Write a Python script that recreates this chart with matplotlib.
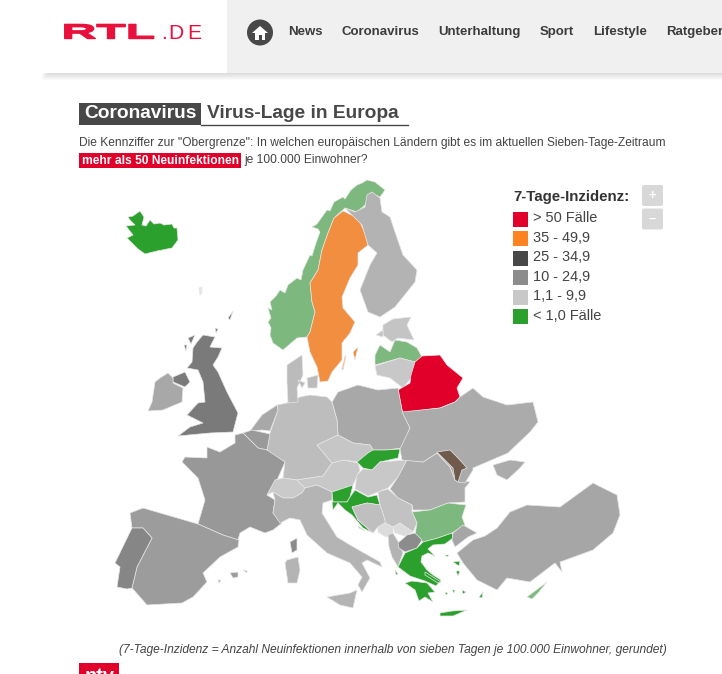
import matplotlib
matplotlib.use('Agg')
import matplotlib.pyplot as plt
from matplotlib.patches import Polygon, Rectangle, FancyBboxPatch, Circle
from matplotlib.transforms import Affine2D
from matplotlib import patheffects

plt.rcParams['font.family'] = ['Liberation Sans', 'DejaVu Sans']

# legend
legend_title = '7-Tage-Inzidenz:'
legend_labels = ['> 50 Fälle', '35 - 49,9', '25 - 34,9', '10 - 24,9', '1,1 - 9,9', '< 1,0 Fälle']
legend_colors = ['#e0002a', '#fd8320', '#484848', '#8c8c8c', '#c8c8c8', '#2ca02c']

nav_items = ['News', 'Coronavirus', 'Unterhaltung', 'Sport', 'Lifestyle', 'Ratgeber']
nav_x = [288, 342, 438, 540, 593, 666]

# map outlines (pixel positions of the screenshot)
iceland = [(128,217),(133,216),(140,211),(144,217),(142,225),(146,226),(150,220),(154,224),(160,223),(164,225),(172,224),(174,228),(177,228),(178,240),(172,248),(157,251),(145,254),(138,249),(127,238),(133,235),(126,226),(135,225),(130,220)]
faroe = [(199,288),(202,287),(202,293),(200,295)]
norway = [(367,180),(375,182),(385,190),(380,197),(370,193),(365,205),(357,212),(345,208),(334,218),(328,233),(322,250),(318,270),(310,283),(312,302),(315,312),(310,332),(307,337),(297,338),(283,350),(273,343),(270,335),(271,328),(268,322),(271,318),(268,308),(272,310),(270,302),(276,296),(280,290),(285,293),(288,285),(297,278),(301,280),(303,270),(310,255),(312,256),(316,243),(320,232),(318,229),(312,227),(317,224),(322,217),(327,210),(330,211),(334,202),(343,197),(345,199),(351,190),(357,185),(362,183)]
sweden = [(343,211),(358,218),(365,233),(368,245),(358,253),(358,265),(350,278),(342,297),(343,308),(355,322),(350,333),(342,343),(342,360),(332,372),(328,381),(320,382),(317,367),(310,352),(307,337),(310,332),(315,312),(312,302),(310,283),(318,270),(322,250),(328,233),(334,218)]
gotland = [(358,347),(355,360),(353,352)]
oland = [(346,356),(343,370),(342,369),(345,356)]
finland = [(372,192),(380,198),(382,212),(390,217),(395,232),(403,255),(417,270),(415,282),(395,307),(380,317),(368,312),(360,290),(370,265),(377,253),(368,245),(362,225),(345,208),(355,212),(365,207),(367,195)]
estonia = [(383,325),(393,319),(411,317),(407,325),(414,340),(398,338),(392,342),(383,335)]
estonia_isl = [(376,335),(383,330),(383,337)]
latvia = [(375,355),(380,345),(390,352),(395,340),(407,342),(417,348),(422,357),(415,362),(400,358),(375,365)]
lithuania = [(375,366),(400,358),(415,362),(411,378),(403,388),(390,378),(377,375)]
belarus = [(415,362),(422,356),(440,355),(447,365),(463,378),(457,388),(460,397),(455,402),(440,408),(408,412),(403,415),(398,390),(410,383),(411,375)]
poland = [(332,402),(338,392),(358,385),(378,390),(398,388),(402,410),(410,428),(402,448),(385,450),(373,450),(370,445),(353,443),(338,435),(337,420)]
germany = [(277,405),(287,403),(300,397),(310,395),(327,397),(332,402),(337,420),(338,435),(317,445),(332,463),(323,476),(297,480),(283,478),(285,462),(273,455),(267,450),(270,433),(278,410)]
denmark = [(287,365),(302,355),(303,375),(297,388),(298,402),(288,403),(287,382)]
zealand = [(307,378),(318,375),(317,388),(308,388)]
funen = [(298,380),(305,383),(302,388)]
netherlands = [(250,431),(262,415),(277,405),(278,410),(270,431),(262,430)]
belgium = [(243,433),(252,430),(270,434),(267,450),(258,448)]
luxembourg = [(267,450),(273,455),(267,456)]
uk = [(203,335),(215,337),(210,347),(222,348),(218,357),(213,365),(218,372),(227,392),(238,413),(233,432),(210,433),(178,436),(190,427),(203,423),(187,415),(198,403),(205,402),(203,382),(198,370),(187,368),(192,362),(193,348),(197,342)]
n_ireland = [(173,377),(185,372),(190,382),(185,387),(173,382)]
hebrides = [(188,338),(195,335),(191,344)]
skye = [(184,345),(187,345),(186,351)]
orkney = [(215,328),(218,329),(216,333)]
shetland = [(228,318),(233,311),(230,320)]
ireland = [(168,373),(173,378),(173,383),(183,388),(182,402),(163,410),(148,411),(152,402),(155,382),(160,378)]
france = [(235,435),(243,433),(258,448),(267,450),(285,462),(278,478),(267,495),(275,500),(273,513),(282,523),(273,530),(265,533),(250,527),(240,533),(238,540),(223,535),(198,524),(205,500),(198,478),(182,462),(185,457),(207,458),(207,447),(220,452),(235,443)]
spain = [(130,513),(143,508),(198,524),(223,535),(239,540),(238,547),(220,557),(203,573),(207,582),(193,597),(182,603),(147,605),(140,597),(132,588),(137,567),(152,538),(143,528),(132,528)]
portugal = [(132,528),(143,528),(152,538),(137,567),(132,588),(127,589),(117,587),(120,567),(115,563)]
mallorca = [(230,573),(238,572),(238,577),(233,578)]
menorca = [(243,570),(247,571),(247,573)]
ibiza = [(218,580),(221,580),(219,583)]
switzerland = [(267,495),(275,480),(283,478),(297,480),(305,488),(302,493),(293,498),(283,498),(273,492)]
austria = [(297,480),(323,476),(332,463),(343,460),(358,463),(360,470),(353,485),(332,492),(317,485),(305,488)]
czechia = [(317,445),(338,435),(353,443),(370,445),(375,452),(358,462),(343,460),(332,463)]
italy = [(273,492),(283,498),(293,498),(302,493),(305,488),(317,485),(332,492),(332,500),(323,503),(322,513),(337,537),(350,545),(380,562),(382,567),(367,560),(362,563),(370,578),(362,592),(358,585),(362,577),(350,563),(327,553),(307,535),(300,520),(290,518),(280,523),(273,513),(275,500)]
sardinia = [(287,560),(298,557),(300,570),(297,583),(288,583),(285,563)]
corsica = [(290,542),(297,538),(297,550),(292,553)]
sicily = [(327,597),(350,593),(357,590),(353,608),(340,605)]
slovenia = [(332,492),(353,485),(350,497),(347,502),(333,502)]
croatia = [(350,497),(355,490),(368,497),(377,495),(380,505),(367,503),(352,507),(358,520),(373,533),(363,528),(352,515),(345,510),(338,503),(333,510),(332,502),(347,502)]
dalmatia_isl = [(358,526),(365,531),(359,528)]
slovakia = [(368,453),(373,450),(385,450),(400,449),(398,458),(380,462),(372,470),(363,468),(357,462)]
hungary = [(363,469),(372,470),(380,462),(407,460),(398,477),(388,488),(378,492),(368,496),(355,489),(357,475)]
romania = [(407,460),(423,462),(437,453),(450,467),(455,480),(470,482),(465,488),(465,502),(448,503),(430,510),(413,510),(412,505),(398,498),(390,489),(398,477)]
ukraine = [(402,412),(440,408),(455,402),(460,397),(473,388),(483,397),(507,405),(533,402),(538,422),(530,432),(508,453),(487,462),(473,468),(473,470),(465,483),(458,482),(455,480),(450,467),(437,453),(423,462),(402,460),(400,449),(410,428)]
crimea = [(493,465),(510,460),(525,462),(520,468),(507,480),(497,475)]
moldova = [(437,452),(450,450),(458,458),(467,468),(462,470),(458,482),(455,480),(453,468),(447,462)]
bulgaria = [(412,512),(430,510),(448,503),(466,505),(462,517),(465,525),(452,533),(438,538),(423,542),(415,535),(417,523)]
serbia = [(378,492),(388,489),(398,498),(412,505),(412,512),(417,523),(413,532),(400,523),(393,527),(385,523),(385,520),(380,505)]
bosnia = [(352,507),(367,503),(380,505),(385,520),(385,523),(378,527),(373,533),(358,520)]
montenegro = [(378,527),(385,523),(393,527),(393,533),(386,537),(378,532)]
kosovo = [(393,527),(400,523),(413,532),(405,536),(395,533)]
albania = [(388,535),(393,533),(399,543),(403,553),(398,567),(392,557),(389,547)]
macedonia = [(398,543),(407,535),(415,533),(422,540),(417,548),(405,552),(399,548)]
greece = [(405,553),(417,548),(423,542),(438,538),(452,533),(453,538),(445,544),(433,545),(428,549),(435,556),(428,553),(422,556),(421,562),(427,570),(433,575),(441,580),(436,586),(425,581),(410,576),(398,567)]
peloponnese = [(405,583),(412,581),(427,583),(435,592),(428,593),(433,602),(425,597),(419,601),(415,590)]
crete = [(440,613),(452,611),(467,610),(453,616),(440,616)]
rhodes = [(479,597),(483,592),(482,598)]
evia = [(425,572),(441,582),(438,583),(425,575)]
lesbos = [(453,562),(460,561),(459,566)]
chios = [(456,571),(460,571),(458,576)]
thasos = [(445,555),(449,555),(447,557)]
cyclades1 = [(452,590),(455,590),(454,593)]
cyclades2 = [(445,592),(448,593),(446,595)]
cyclades3 = [(462,590),(466,592),(463,594)]
kefalonia = [(395,570),(398,574),(396,575)]
turkey_eu = [(453,533),(463,525),(477,533),(468,537),(455,547),(452,540)]
turkey = [(485,536),(497,528),(510,512),(527,505),(560,507),(593,483),(617,495),(620,515),(613,533),(593,550),(560,562),(562,572),(555,563),(530,582),(507,578),(497,590),(477,580),(463,563),(457,553),(473,540)]
cyprus = [(527,597),(547,582),(538,593),(532,599)]

# outline, fill colour
countries = [
    (iceland, '#2ca02c'), (faroe, '#e8e8e8'), (norway, '#7db87e'), (sweden, '#f28e3f'), (gotland, '#f28e3f'), (oland, '#f28e3f'),
    (finland, '#b3b3b3'), (estonia, '#c4c4c4'), (estonia_isl, '#c4c4c4'), (latvia, '#7db87e'), (lithuania, '#c8c8c8'),
    (belarus, '#e0002a'), (poland, '#a8a8a8'), (germany, '#bdbdbd'), (denmark, '#bbbbbb'), (zealand, '#bbbbbb'),
    (funen, '#bbbbbb'), (netherlands, '#a8a8a8'), (belgium, '#9a9a9a'), (luxembourg, '#bdbdbd'), (uk, '#7a7a7a'),
    (n_ireland, '#7a7a7a'), (hebrides, '#7a7a7a'), (skye, '#7a7a7a'), (orkney, '#7a7a7a'), (shetland, '#7a7a7a'),
    (ireland, '#a8a8a8'), (france, '#989898'),
    (spain, '#9c9c9c'), (portugal, '#868686'), (mallorca, '#9c9c9c'), (menorca, '#9c9c9c'), (ibiza, '#9c9c9c'),
    (switzerland, '#cacaca'), (austria, '#c8c8c8'), (czechia, '#c6c6c6'), (italy, '#b4b4b4'), (sardinia, '#b4b4b4'),
    (corsica, '#8a8a8a'), (sicily, '#b4b4b4'), (slovenia, '#2ca02c'), (croatia, '#2ca02c'), (dalmatia_isl, '#2ca02c'),
    (slovakia, '#2ca02c'),
    (hungary, '#c8c8c8'), (romania, '#acacac'), (ukraine, '#ababab'), (crimea, '#ababab'), (moldova, '#705a4b'),
    (bulgaria, '#7db87e'), (serbia, '#c2c2c2'), (bosnia, '#bfbfbf'), (montenegro, '#dcdcdc'), (kosovo, '#dcdcdc'),
    (albania, '#b4b4b4'), (macedonia, '#8c8c8c'), (greece, '#2ca02c'), (peloponnese, '#2ca02c'), (crete, '#2ca02c'),
    (rhodes, '#2ca02c'), (evia, '#2ca02c'), (lesbos, '#2ca02c'), (chios, '#2ca02c'), (thasos, '#2ca02c'),
    (cyclades1, '#2ca02c'), (cyclades2, '#2ca02c'), (cyclades3, '#2ca02c'), (kefalonia, '#2ca02c'),
    (turkey_eu, '#a6a6a6'), (turkey, '#a6a6a6'), (cyprus, '#7db87e'),
]


class StretchX(patheffects.AbstractPathEffect):
    # widens the glyphs of a text and fattens them, for the extended RTL lettering
    def __init__(self, factor, weight):
        super().__init__()
        self.factor = factor
        self.weight = weight

    def draw_path(self, renderer, gc, tpath, affine, rgbFace=None):
        gc0 = renderer.new_gc()
        gc0.copy_properties(gc)
        gc0.set_linewidth(self.weight)
        gc0.set_foreground(rgbFace)
        renderer.draw_path(gc0, tpath, Affine2D().scale(self.factor, 1) + affine, rgbFace)
        gc0.restore()


fig = plt.figure(figsize=(7.22, 6.74), dpi=100)
ax = fig.add_axes([0, 0, 1, 1])
ax.set_xlim(0, 722)
ax.set_ylim(674, 0)
ax.axis('off')

def label(x, y, s, px, **kw):
    # font size given in screen pixels
    kw.setdefault('va', 'center')
    return ax.text(x, y, s, fontsize=px * 0.72, **kw)

# header bar with soft shadow
for i in range(7):
    ax.add_patch(Rectangle((42 + i, 73), 680, 7 - i, fc='#000000', alpha=0.018, lw=0))
ax.add_patch(Rectangle((42, 0), 185, 73, fc='white', lw=0))
ax.add_patch(Rectangle((227, 0), 495, 73, fc='#f0f0f0', lw=0))

# logo
t = label(61.5, 38.5, 'RTL', 20.5, color='#e8103c', fontweight='bold', ha='left', va='baseline')
t.set_path_effects([StretchX(2.35, 1.0)])
for x, ch in zip([161, 168, 187], '.DE'):
    label(x, 39, ch, 21, color='#e8103c', ha='left', va='baseline')

# home button
ax.add_patch(Circle((260, 32.5), 13, fc='#484848', lw=0))
ax.add_patch(Polygon([(252, 33), (260, 26), (268, 33)], fc='white', lw=0))
ax.add_patch(Rectangle((255, 33), 10, 6.5, fc='white', lw=0))
ax.add_patch(Rectangle((259, 35), 2.5, 4.5, fc='#484848', lw=0))

for x, s in zip(nav_x, nav_items):
    label(x, 32, s, 13.3, color='#3c3c3c', fontweight='bold', ha='left')

# headline
ax.add_patch(Rectangle((79, 103), 122, 22, fc='#484848', lw=0))
label(84, 113.5, 'Coronavirus', 19.2, color='white', fontweight='bold', ha='left')
label(207, 113.5, 'Virus-Lage in Europa', 19.1, color='#484848', fontweight='bold', ha='left')
ax.plot([201, 408], [124.5, 124.5], color='#484848', lw=1)

label(79, 143, 'Die Kennziffer zur "Obergrenze": In welchen europäischen Ländern gibt es im aktuellen Sieben-Tage-Zeitraum',
      12, color='#444444', ha='left')
ax.add_patch(Rectangle((79, 153), 162, 15, fc='#e0002a', lw=0))
label(82, 160.5, 'mehr als 50 Neuinfektionen', 12, color='white', fontweight='bold', ha='left')
label(244, 160.5, 'je 100.000 Einwohner?', 12, color='#444444', ha='left')

# map
for outline, color in countries:
    ax.add_patch(Polygon(outline, closed=True, fc=color, ec='#e6e6e6', lw=0.5))

# legend
label(513, 197, legend_title, 15, color='#333333', fontweight='bold', ha='left')
for i, (s, c) in enumerate(zip(legend_labels, legend_colors)):
    y = 212 + i * 19.4
    ax.add_patch(Rectangle((513, y), 15, 15, fc=c, lw=0))
    label(533, y + 6.5, s, 14.5, color='#444444', ha='left')

# zoom buttons
for y, s in zip([185, 208.5], ['+', '–']):
    ax.add_patch(FancyBboxPatch((642, y), 21, 21, boxstyle='round,pad=0,rounding_size=2', fc='#d8d8d8', lw=0))
    label(652.5, y + 10.5, s, 13, color='white', fontweight='bold', ha='center')

# footnote
label(667, 650, '(7-Tage-Inzidenz = Anzahl Neuinfektionen innerhalb von sieben Tagen je 100.000 Einwohner, gerundet)',
      12, color='#444444', style='italic', ha='right')

# ntv logo, cut off at the bottom edge of the screenshot
# the source line beside it shows only 2px of letter tops, not legible, so it is left out
ax.add_patch(Rectangle((79, 663), 40, 11, fc='#e0002a', lw=0))
label(100, 676, 'ntv', 20, color='white', fontweight='bold', ha='center', clip_on=True)

fig.savefig('out.png', dpi=100)
